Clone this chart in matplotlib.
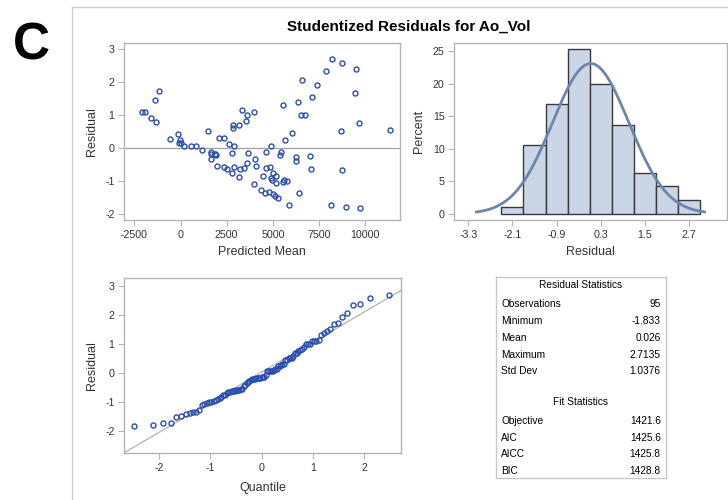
import matplotlib
matplotlib.use("Agg")
import matplotlib.pyplot as plt
import numpy as np
from statistics import NormalDist

plt.rcParams['font.family'] = ['Liberation Sans', 'DejaVu Sans']
plt.rcParams['axes.unicode_minus'] = False

# ---------------- data ----------------
pred_mean = [-2057, -1912, -1588, -1389, -1335, -1173, -559, -162, -54, -72,
             54, 198, 577, 812, 1155, 1479, 1624, 1624, 1660, 1840,
             1858, 1930, 1984, 2093, 2327, 2363, 2508, 2616, 2760, 2778,
             2832, 2850, 2868, 2904, 3139, 3175, 3211, 3337, 3410, 3518,
             3572, 3572, 3626, 3969, 3969, 4041, 4077, 4330, 4456, 4582,
             4600, 4618, 4763, 4817, 4871, 4871, 4925, 5015, 5015, 5087,
             5141, 5159, 5267, 5358, 5430, 5520, 5556, 5592, 5664, 5772,
             5881, 6043, 6224, 6242, 6332, 6386, 6494, 6548, 6729, 6999,
             7072, 7126, 7396, 7865, 8154, 8208, 8659, 8731, 8731, 8930,
             9453, 9489, 9669, 9724, 11311]
residual = [1.09, 1.09, 0.90, 1.44, 0.78, 1.72, 0.27, 0.43, 0.25, 0.14,
            0.14, 0.07, 0.05, 0.07, -0.08, 0.50, -0.14, -0.20, -0.33, -0.18,
            -0.18, -0.21, -0.54, 0.30, 0.30, -0.59, -0.63, 0.11, -0.17, -0.75,
            0.68, 0.59, 0.05, -0.59, -0.89, 0.68, -0.65, 1.15, -0.62, 0.81,
            0.99, -0.46, -0.17, 1.09, -1.09, -0.35, -0.55, -1.27, -0.87, -1.37,
            -0.14, -0.61, -1.33, -0.58, 0.06, -0.92, -0.99, -0.75, -1.41, -1.47,
            -0.84, -1.06, -1.51, -0.22, -0.14, -1.04, 1.29, -0.97, 0.24, -1.00,
            -1.73, 0.46, -0.29, -0.40, 1.38, -1.36, 0.99, 2.07, 0.99, -0.24,
            -0.65, 1.53, 1.92, 2.33, -1.73, 2.70, 0.50, -0.68, 2.58, -1.79,
            1.67, 2.39, 0.75, -1.83, 0.53]

bin_centers = [-2.1, -1.5, -0.9, -0.3, 0.3, 0.9, 1.5, 2.1, 2.7]
bin_percent = [1.05, 10.5, 16.8, 25.3, 20.0, 13.7, 6.3, 4.2, 2.1]
bin_width = 0.6

stat_labels = ["Observations", "Minimum", "Mean", "Maximum", "Std Dev"]
stat_values = ["95", "-1.833", "0.026", "2.7135", "1.0376"]
fit_labels = ["Objective", "AIC", "AICC", "BIC"]
fit_values = ["1421.6", "1425.6", "1425.8", "1428.8"]
res_mean = 0.026
res_sd = 1.0376

# ---------------- style ----------------
W, H = 728, 500
fig = plt.figure(figsize=(W / 100, H / 100), dpi=100)

SPINE = '#B4B4B4'
TXT = '#333333'
MARK = '#2A4FAE'
TICK_FS = 7.7
LAB_FS = 9


def ax_at(l, t, r, b):
    return fig.add_axes([l / W, 1 - b / H, (r - l) / W, (b - t) / H])


def style(ax):
    for s in ax.spines.values():
        s.set_color(SPINE)
        s.set_linewidth(1.0)
    ax.tick_params(direction='out', length=4, width=0.8, color=SPINE,
                   labelsize=TICK_FS, labelcolor=TXT, pad=3)


# outer frame
fig.add_artist(plt.Line2D([72.3 / W, 1], [1 - 7.3 / H, 1 - 7.3 / H],
                          color='#CCCCCC', lw=1.0))
fig.add_artist(plt.Line2D([72.3 / W, 72.3 / W], [0, 1 - 7.3 / H],
                          color='#CCCCCC', lw=1.0))

fig.text(13 / W, 1 - 46 / H, "C", fontsize=37, fontweight='bold',
         ha='left', va='center', color='black')
fig.text(409 / W, 1 - 27 / H, "Studentized Residuals for Ao_Vol",
         fontsize=11, fontweight='bold', ha='center', va='center', color='black')

# ---------------- scatter: residual vs predicted ----------------
ax1 = ax_at(124.3, 42.7, 400, 220)
style(ax1)
ax1.axhline(0, color='#A0A0A0', lw=0.9, zorder=1)
ax1.plot(pred_mean, residual, 'o', ms=3.6, mfc='none', mec=MARK, mew=1.0,
         zorder=3)
ax1.set_xlim(-3041, 11877)
ax1.set_ylim(-2.19, 3.19)
ax1.set_xticks([-2500, 0, 2500, 5000, 7500, 10000])
ax1.set_yticks([-2, -1, 0, 1, 2, 3])
ax1.set_xlabel("Predicted Mean", fontsize=LAB_FS, color=TXT)
ax1.set_ylabel("Residual", fontsize=LAB_FS, color=TXT)
ax1.xaxis.set_label_coords(0.5, -(252 - 220) / 177.3)
ax1.xaxis.label.set_va('center')
ax1.yaxis.set_label_coords((91.7 - 124.3) / 275.7, 0.5)
ax1.yaxis.label.set_va('center')

# ---------------- histogram ----------------
ax2 = ax_at(454.3, 43.3, 727, 220)
style(ax2)
ax2.bar(bin_centers, bin_percent, width=bin_width, color='#CAD5E5',
        edgecolor='#3A3A3A', linewidth=1.0, zorder=2)
xs = np.linspace(-3.08, 3.12, 200)
dens = [NormalDist(res_mean, res_sd).pdf(v) * bin_width * 100 for v in xs]
ax2.plot(xs, dens, color='#6B85AD', lw=2.0, zorder=3)
ax2.set_xlim(-3.68, 3.73)
ax2.set_ylim(-0.97, 26.18)
ax2.set_xticks([-3.3, -2.1, -0.9, 0.3, 1.5, 2.7])
ax2.set_xticklabels(["-3.3", "-2.1", "-0.9", "0.3", "1.5", "2.7"])
ax2.set_yticks([0, 5, 10, 15, 20, 25])
ax2.set_xlabel("Residual", fontsize=LAB_FS, color=TXT)
ax2.set_ylabel("Percent", fontsize=LAB_FS, color=TXT)
ax2.xaxis.set_label_coords(0.5, -(252 - 220) / 176.7)
ax2.xaxis.label.set_va('center')
ax2.yaxis.set_label_coords((419.3 - 454.3) / 272.7, 0.5)
ax2.yaxis.label.set_va('center')

# ---------------- Q-Q plot ----------------
n = len(residual)
sorted_res = sorted(residual)
quant = [NormalDist().inv_cdf((i + 1 - 0.375) / (n + 0.25)) for i in range(n)]
ax3 = ax_at(124.3, 278.3, 400.7, 453.3)
style(ax3)
qx = np.array([-2.8, 2.8])
ax3.plot(qx, res_mean + res_sd * qx, color='#B8B8B8', lw=1.0, zorder=1)
ax3.plot(quant, sorted_res, 'o', ms=3.6, mfc='none', mec=MARK, mew=1.0,
         zorder=3)
ax3.set_xlim(-2.675, 2.708)
ax3.set_ylim(-2.77, 3.26)
ax3.set_xticks([-2, -1, 0, 1, 2])
ax3.set_yticks([-2, -1, 0, 1, 2, 3])
ax3.set_xlabel("Quantile", fontsize=LAB_FS, color=TXT)
ax3.set_ylabel("Residual", fontsize=LAB_FS, color=TXT)
ax3.xaxis.set_label_coords(0.5, -(488.3 - 453.3) / 175)
ax3.xaxis.label.set_va('center')
ax3.yaxis.set_label_coords((91.7 - 124.3) / 276.4, 0.5)
ax3.yaxis.label.set_va('center')

# ---------------- statistics table ----------------
ax4 = ax_at(496, 276.7, 666, 478.3)
ax4.set_xlim(496, 666)
ax4.set_ylim(478.3, 276.7)
ax4.set_xticks([])
ax4.set_yticks([])
for s in ax4.spines.values():
    s.set_color('#C8C8C8')
    s.set_linewidth(1.0)
TFS = 7.3
ax4.text(580.7, 285, "Residual Statistics", fontsize=TFS, ha='center',
         va='center', color='black')
stat_y = [304, 321, 337.7, 354.7, 371.3]
for lab, val, yy in zip(stat_labels, stat_values, stat_y):
    ax4.text(501, yy, lab, fontsize=TFS, ha='left', va='center', color='black')
    ax4.text(660.7, yy, val, fontsize=TFS, ha='right', va='center', color='black')
ax4.text(580.7, 402.3, "Fit Statistics", fontsize=TFS, ha='center',
         va='center', color='black')
fit_y = [420.7, 437.7, 454.3, 471]
for lab, val, yy in zip(fit_labels, fit_values, fit_y):
    ax4.text(501, yy, lab, fontsize=TFS, ha='left', va='center', color='black')
    ax4.text(660.7, yy, val, fontsize=TFS, ha='right', va='center', color='black')

fig.savefig("out.png", dpi=100)
